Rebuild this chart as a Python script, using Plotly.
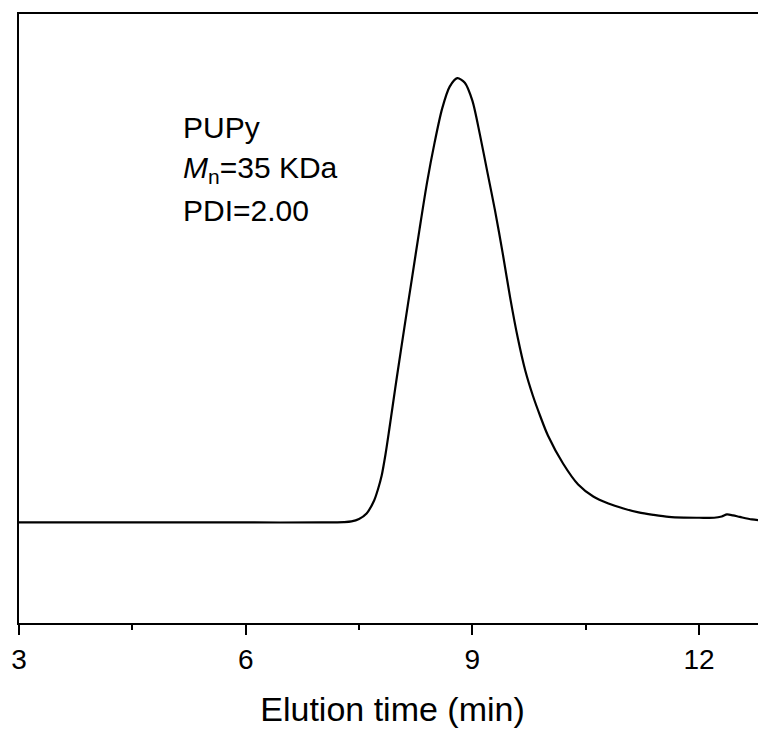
import plotly.graph_objects as go

# Elution time (min) and detector signal (arbitrary units)
time_min = [3.0, 4.0, 5.0, 6.0, 7.0, 7.30, 7.40, 7.50, 7.60, 7.70, 7.75, 7.80, 7.85, 7.90,
            7.95, 8.00, 8.10, 8.20, 8.30, 8.40, 8.50, 8.60, 8.70, 8.80, 8.90, 9.00, 9.10,
            9.20, 9.30, 9.40, 9.50, 9.60, 9.70, 9.80, 9.90, 10.00, 10.20, 10.40, 10.60,
            10.80, 11.00, 11.20, 11.40, 11.60, 11.80, 12.00, 12.20, 12.30, 12.37, 12.45,
            12.54, 12.70, 12.89]
signal = [0.0, 0.0, 0.0, 0.0, 0.0, 0.3, 1.0, 3.5, 9.0, 22.0, 33.0, 47.0, 68.0, 93.0,
          119.0, 145.0, 195.0, 244.0, 293.0, 340.0, 380.0, 414.0, 436.0, 444.5, 440.0, 422.0, 388.0,
          350.0, 312.0, 270.0, 225.0, 185.0, 152.0, 127.0, 106.0, 87.0, 59.0, 38.0, 26.0,
          19.0, 14.0, 10.0, 7.5, 5.5, 4.8, 4.7, 4.7, 6.0, 8.0, 7.0,
          5.5, 3.0, 1.5]

x_ticks = [3, 6, 9, 12]
x_minor = [4.5, 7.5, 10.5]
notes = ["PUPy", "<i>M</i><sub>n</sub>=35 KDa", "PDI=2.00"]
note_y = [0.813, 0.744, 0.678]

FONT = "Arial, Liberation Sans, sans-serif"

fig = go.Figure()
fig.add_trace(go.Scatter(x=time_min, y=signal, mode="lines",
                         line=dict(color="black", width=2.2, shape="spline", smoothing=0.8),
                         showlegend=False, hoverinfo="skip"))

for txt, yy in zip(notes, note_y):
    fig.add_annotation(text=txt, xref="paper", yref="paper", x=0.217, y=yy,
                       xanchor="left", yanchor="middle", showarrow=False,
                       font=dict(family=FONT, size=30, color="black"))

fig.update_layout(
    width=758, height=723,
    margin=dict(l=11, r=0, t=6, b=108),
    paper_bgcolor="white", plot_bgcolor="white",
    font=dict(family=FONT, color="black"),
    xaxis=dict(range=[3, 12.886], tickvals=x_ticks, ticks="outside", ticklen=10, tickwidth=2,
               tickcolor="black", showline=True, linecolor="black", linewidth=2, mirror=True,
               showgrid=False, zeroline=False, tickfont=dict(size=28, family=FONT),
               minor=dict(tickvals=x_minor, ticks="outside", ticklen=5, tickwidth=2,
                          tickcolor="black", showgrid=False),
               title=dict(text="Elution time (min)", font=dict(size=34, family=FONT), standoff=24)),
    yaxis=dict(range=[-100.6, 508.7], showticklabels=False, ticks="", showline=True,
               linecolor="black", linewidth=2, mirror=False, showgrid=False, zeroline=False),
)

fig.write_html("out.html")
